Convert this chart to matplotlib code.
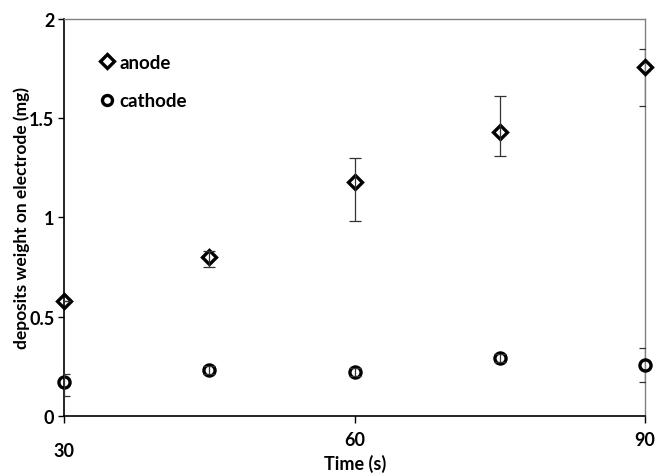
import numpy as np
import matplotlib.pyplot as plt
import matplotlib.transforms as mtransforms

plt.rcParams['font.family'] = ['Lato', 'DejaVu Sans']
plt.rcParams['font.weight'] = 'bold'

# Data
time = [30, 45, 60, 75, 90]
anode = [0.58, 0.80, 1.18, 1.43, 1.76]
anode_lo = [0.58, 0.75, 0.98, 1.31, 1.56]
anode_hi = [0.58, 0.83, 1.30, 1.61, 1.85]
cathode = [0.17, 0.23, 0.22, 0.29, 0.255]
cathode_lo = [0.10, 0.21, 0.20, 0.27, 0.17]
cathode_hi = [0.21, 0.25, 0.24, 0.31, 0.34]

anode_err = [np.subtract(anode, anode_lo), np.subtract(anode_hi, anode)]
cathode_err = [np.subtract(cathode, cathode_lo), np.subtract(cathode_hi, cathode)]

fig = plt.figure(figsize=(6.55, 4.77), dpi=100)
ax = fig.add_axes([0.098, 0.126, 0.887, 0.832])

# markers are open, the error bar shows through them; bars are clipped at the frame
ax.plot(time, anode, 'D', ms=7.5, mfc='none', mec='black', mew=2.4,
        label='anode', clip_on=False, zorder=3)
ax.plot(time, cathode, 'o', ms=8, mfc='none', mec='black', mew=2.4,
        label='cathode', clip_on=False, zorder=3)
for y, err in [(anode, anode_err), (cathode, cathode_err)]:
    ax.errorbar(time, y, yerr=err, fmt='none', ecolor='#333333', elinewidth=0.9,
                capsize=4, capthick=0.9, zorder=4)

ax.set_xlim(30, 90)
ax.set_ylim(0, 2)
ax.set_xticks([30, 60, 90])
ax.set_yticks([0, 0.5, 1, 1.5, 2])
ax.set_yticklabels(['0', '0.5', '1', '1.5', '2'])
ax.tick_params(direction='out', length=4, width=1, labelsize=13, pad=3)
ax.tick_params(axis='x', length=5, pad=6)

for s in ['left', 'bottom']:
    ax.spines[s].set_color('black')
    ax.spines[s].set_linewidth(1.2)
for s in ['top', 'right']:
    ax.spines[s].set_color('#808080')
    ax.spines[s].set_linewidth(1.0)

ax.set_xlabel('Time (s)', fontsize=13, fontweight='bold')
ax.xaxis.set_label_coords(0.5, -0.095)
ax.set_ylabel('deposits weight on electrode (mg)', fontsize=12.5, fontweight='bold')
ax.yaxis.set_label_coords(-0.058, 0.5)

# the "30" label sits lower than the others in the original
fig.canvas.draw()
lab = ax.get_xticklabels()[0]
lab.set_transform(lab.get_transform() + mtransforms.ScaledTranslation(0, -11 / 100, fig.dpi_scale_trans))

ax.legend(loc='upper left', bbox_to_anchor=(0.035, 0.955), frameon=False,
          fontsize=13.5, handlelength=0.6, handletextpad=0.35, labelspacing=1.15,
          markerscale=0.9)

fig.savefig('out.png', dpi=100)
